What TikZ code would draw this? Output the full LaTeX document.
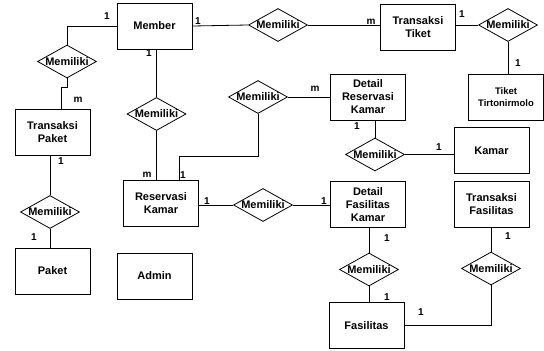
\documentclass[tikz,border=0pt]{standalone}
\usepackage{fontspec}
\setmainfont{Liberation Sans}
\usetikzlibrary{shapes.geometric}

\begin{document}
\begin{tikzpicture}[x=1pt, y=-1pt,
  entitas/.style={draw, line width=0.8pt, align=center, minimum width=75pt, minimum height=46pt,
    font=\fontsize{11}{13}\selectfont\bfseries},
  relasi/.style={draw, diamond, line width=0.8pt, aspect=1.8, inner sep=0pt,
    minimum width=59pt, minimum height=33pt, font=\fontsize{11}{13}\selectfont\bfseries},
  kard/.style={font=\fontsize{10}{12}\selectfont\bfseries, inner sep=0pt},
  every path/.style={line width=0.8pt}]

\useasboundingbox (0,0) rectangle (544,351);

% entitas
\node[entitas] (member) at (154.5,26) {Member};
\node[entitas] (ttiket) at (418,27) {Transaksi\\Tiket};
\node[entitas] (tpaket) at (52.5,132) {Transaksi\\Paket};
\node[entitas] (paket) at (52.5,271) {Paket};
\node[entitas] (admin) at (154.5,276) {Admin};
\node[entitas] (reservasi) at (161,203) {Reservasi\\Kamar};
\node[entitas] (dreservasi) at (368,97) {Detail\\Reservasi\\Kamar};
\node[entitas] (kamar) at (491.5,150.5) {Kamar};
\node[entitas, font=\fontsize{9.5}{12}\selectfont\bfseries] (tiket) at (506,97) {Tiket\\Tirtonirmolo};
\node[entitas] (dfasilitas) at (368,204.5) {Detail\\Fasilitas\\Kamar};
\node[entitas] (tfasilitas) at (491.5,204) {Transaksi\\Fasilitas};
\node[entitas] (fasilitas) at (366.5,325.5) {Fasilitas};

% relasi
\node[relasi] (r1) at (67,61.5) {Memiliki};
\node[relasi] (r2) at (50,212) {Memiliki};
\node[relasi] (r3) at (278,25) {Memiliki};
\node[relasi] (r4) at (508,25) {Memiliki};
\node[relasi] (r5) at (156.5,114) {Memiliki};
\node[relasi] (r6) at (258,97) {Memiliki};
\node[relasi] (r7) at (375,154.5) {Memiliki};
\node[relasi] (r8) at (263,205) {Memiliki};
\node[relasi] (r9) at (369,269.5) {Memiliki};
\node[relasi] (r10) at (491,268.5) {Memiliki};

% garis
\draw (member.west) -| (r1.north);
\draw (r1.south) -- ++(0,9) -| ([xshift=8.5pt]tpaket.north);
\draw (r2.north |- tpaket.south) -- (r2.north);
\draw (r2.south) -- (r2.south |- paket.north);
\draw (member.east) -- (r3.west);
\draw (r3.east) -- (r3.east -| ttiket.west);
\draw (r4.west -| ttiket.east) -- (r4.west);
\draw (r4.south) -- (r4.south |- tiket.north);
\draw (r5.north |- member.south) -- (r5.north);
\draw (r5.south) -- (r5.south |- reservasi.north);
\draw ([xshift=18pt]reservasi.north) -- ++(0,-23) -| (r6.south);
\draw (r6.east) -- (dreservasi.west);
\draw (r7.north |- dreservasi.south) -- (r7.north);
\draw (r7.east) -- (r7.east -| kamar.west);
\draw (r8.west -| reservasi.east) -- (r8.west);
\draw (r8.east) -- (r8.east -| dfasilitas.west);
\draw (r9.north |- dfasilitas.south) -- (r9.north);
\draw (r9.south) -- (r9.south |- fasilitas.north);
\draw (r10.north |- tfasilitas.south) -- (r10.north);
\draw (r10.south) |- (fasilitas.east);

% kardinalitas
\node[kard] (k1) at (107,16) {1};
\node[kard] (k2) at (78,100) {m};
\node[kard] (k3) at (61,161) {1};
\node[kard] (k4) at (34,237) {1};
\node[kard] (k5) at (198,21) {1};
\node[kard] (k6) at (371,22) {m};
\node[kard] (k7) at (462,14) {1};
\node[kard] (k8) at (518,63) {1};
\node[kard] (k9) at (149,53) {1};
\node[kard] (k10) at (147,175) {m};
\node[kard] (k11) at (183,175) {1};
\node[kard] (k12) at (315,89) {m};
\node[kard] (k13) at (357,126) {1};
\node[kard] (k14) at (439,147) {1};
\node[kard] (k15) at (207,201) {1};
\node[kard] (k16) at (324,201) {1};
\node[kard] (k17) at (387,238) {1};
\node[kard] (k18) at (387,297) {1};
\node[kard] (k19) at (508,236) {1};
\node[kard] (k20) at (421,312) {1};

\end{tikzpicture}
\end{document}
